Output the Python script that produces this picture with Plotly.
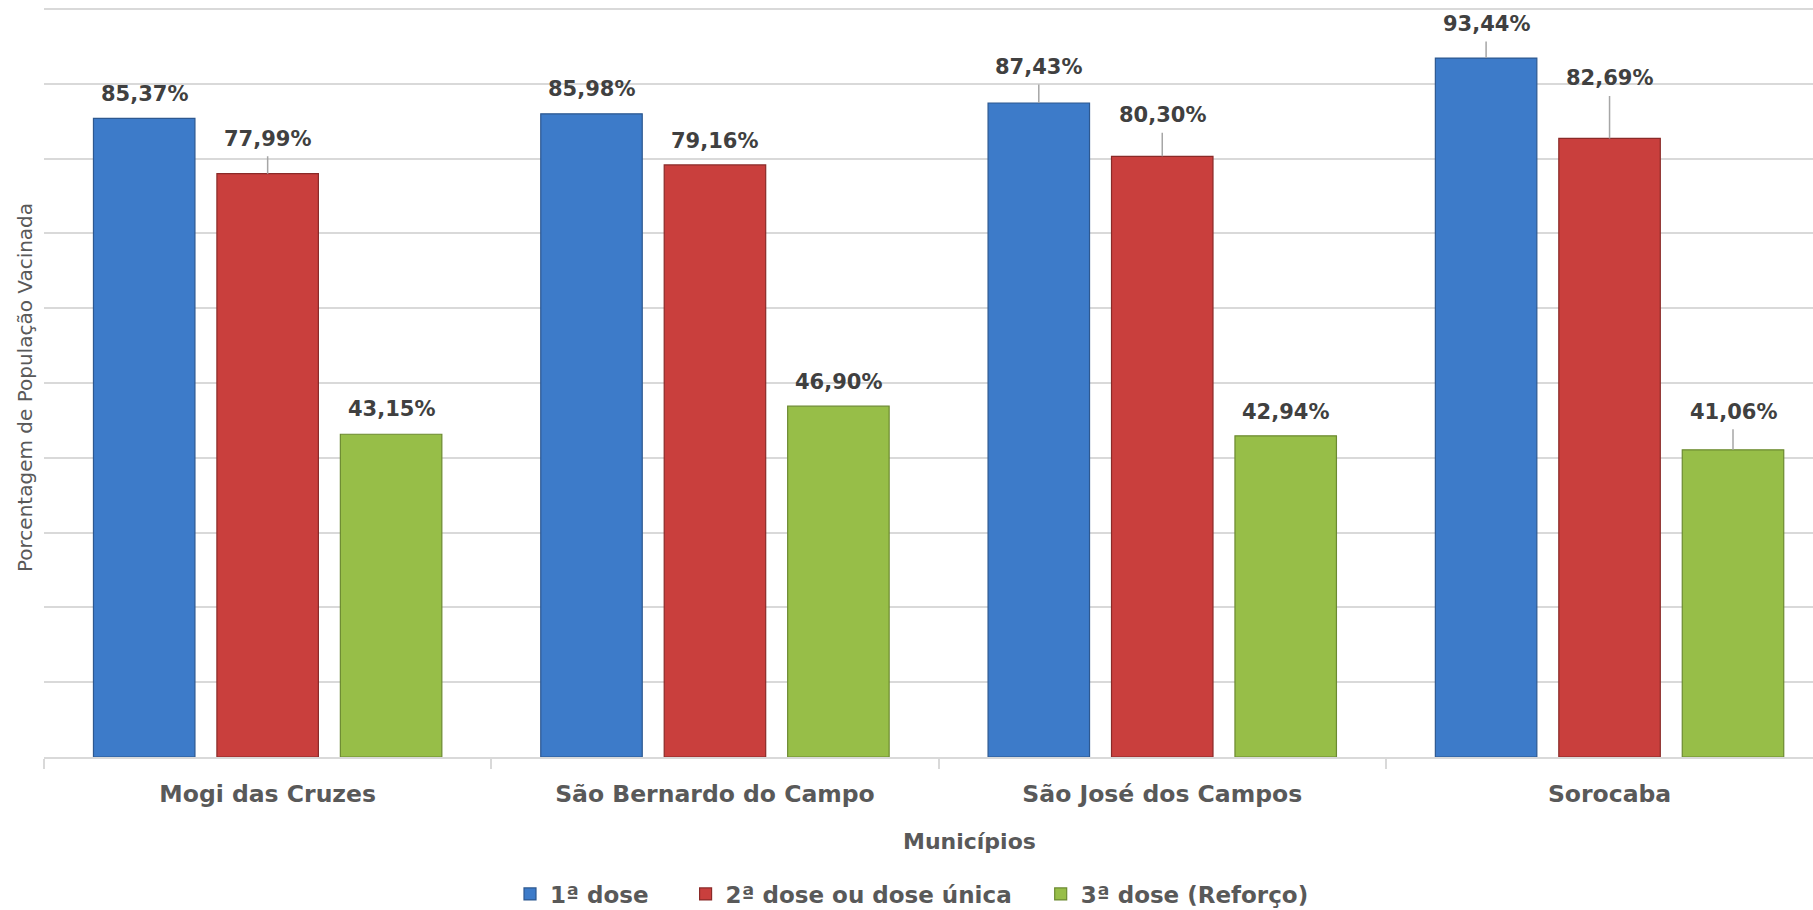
import plotly.graph_objects as go

# Vaccination coverage by municipality (% of population)
municipios = ["Mogi das Cruzes", "São Bernardo do Campo", "São José dos Campos", "Sorocaba"]
series_names = ["1ª dose", "2ª dose ou dose única", "3ª dose (Reforço)"]
dose1 = [85.37, 85.98, 87.43, 93.44]
dose2 = [77.99, 79.16, 80.30, 82.69]
dose3 = [43.15, 46.90, 42.94, 41.06]

# Styling
bar_colors = ["#3d7bc9", "#c93f3d", "#97be48"]
edge_colors = ["#2d5890", "#8a2a28", "#6c8a31"]
# label placement: pixels above bar top, and whether a leader line is drawn
label_lift = [[24, 25, 36, 34], [35, 24, 41, 60], [25, 24, 24, 38]]
label_leader = [[False, False, True, True], [True, False, True, True], [False, False, False, True]]
legend_pad = [4, 3, 0]  # trailing spaces after each legend entry

FONT = "DejaVu Sans"
BARGAP = 0.172
BARGROUPGAP = 0.178

W, H = 1813, 910
Y_TOP = 100.935
M_L, M_R, M_T, M_B = 44, 0, 2, 153

fig = go.Figure()
all_values = [dose1, dose2, dose3]
for name, vals, col, edge, pad in zip(series_names, all_values, bar_colors, edge_colors, legend_pad):
    fig.add_trace(go.Bar(
        name=name + "\u00a0" * pad, x=municipios, y=vals,
        marker=dict(color=col, line=dict(color=edge, width=1.2)),
    ))

def fmt(v):
    return f"{v:.2f}".replace(".", ",") + "%"

slot = (1 - BARGAP) / 3
annotations = []
for s, vals in enumerate(all_values):
    for i, v in enumerate(vals):
        lead = label_leader[s][i]
        annotations.append(dict(
            x=i + (s - 1) * slot, y=v, xref="x", yref="y",
            text=fmt(v), showarrow=True, ax=0, ay=-label_lift[s][i],
            arrowhead=0, arrowwidth=1.5,
            arrowcolor="#a6a6a6" if lead else "rgba(0,0,0,0)",
            startstandoff=4, standoff=0,
            font=dict(family=FONT, size=21, color="#404040", weight="bold"),
        ))

plot_w = W - M_L - M_R
plot_h = H - M_T - M_B
# x axis title
annotations.append(dict(
    text="Municípios", xref="paper", yref="paper",
    x=(969 - M_L) / plot_w, y=-(842 - (H - M_B)) / plot_h,
    xanchor="center", yanchor="middle", showarrow=False,
    font=dict(family=FONT, size=22, color="#595959", weight="bold"),
))
# y axis title
annotations.append(dict(
    text="Porcentagem de População Vacinada", xref="paper", yref="paper",
    x=(25 - M_L) / plot_w, y=((H - M_B) - 388) / plot_h, textangle=-90,
    xanchor="center", yanchor="middle", showarrow=False,
    font=dict(family=FONT, size=20, color="#595959"),
))

cat_px = 447.3
x_right = -0.5 + plot_w / cat_px

fig.update_layout(
    width=W, height=H,
    margin=dict(l=M_L, r=M_R, t=M_T, b=M_B),
    paper_bgcolor="white", plot_bgcolor="white",
    barmode="group", bargap=BARGAP, bargroupgap=BARGROUPGAP,
    showlegend=True,
    legend=dict(
        orientation="h", xref="container", yref="container",
        x=510 / W, xanchor="left", y=1 - 894 / H, yanchor="middle",
        font=dict(family=FONT, size=23, color="#595959", weight="bold"),
        bgcolor="rgba(0,0,0,0)",
    ),
    xaxis=dict(
        type="category", range=[-0.5, x_right], showgrid=False,
        showline=True, linecolor="#d9d9d9", linewidth=1.5,
        ticks="outside", tickson="boundaries", ticklen=10,
        tickcolor="#d9d9d9", tickwidth=1.5, ticklabelstandoff=15,
        tickfont=dict(family=FONT, size=23.5, color="#595959", weight="bold"),
    ),
    yaxis=dict(
        range=[0, Y_TOP], dtick=10, showticklabels=False,
        showgrid=True, gridcolor="#d9d9d9", gridwidth=1.5,
        zeroline=False, showline=False, ticks="",
    ),
    annotations=annotations,
)

fig.write_html("out.html")
